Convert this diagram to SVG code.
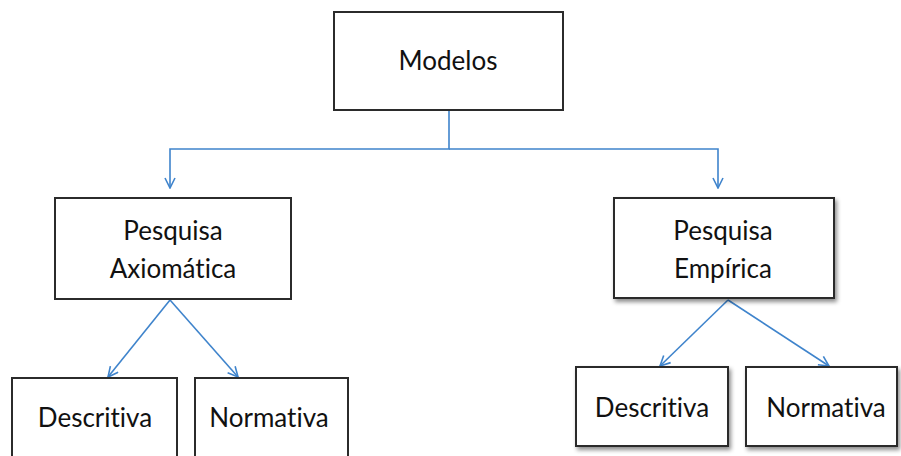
<svg xmlns="http://www.w3.org/2000/svg" width="901" height="456" viewBox="0 0 901 456">
<defs>
<style>
.box{fill:#fff;stroke:#2b2b2b;stroke-width:2}
.t{font-family:Lato,"Open Sans","Liberation Sans",sans-serif;font-size:26px;fill:#111;text-anchor:middle;font-variant-ligatures:none;font-feature-settings:"liga" 0,"dlig" 0}
.c{fill:none;stroke:#3f84cc;stroke-width:1.6}
</style>
<marker id="ah" viewBox="0 0 12 12" refX="11" refY="6" markerWidth="12" markerHeight="12" markerUnits="userSpaceOnUse" orient="auto">
<path d="M1,1 L11,6 L1,11" fill="none" stroke="#3f84cc" stroke-width="1.6"/>
</marker>
<filter id="sh" x="-10%" y="-10%" width="130%" height="140%">
<feDropShadow dx="2" dy="3" stdDeviation="2" flood-color="#000" flood-opacity="0.45"/>
</filter>
</defs>
<rect width="901" height="456" fill="#fff"/>
<g id="connectors">
<path class="c" d="M449,110 V149 H170 V188" marker-end="url(#ah)"/>
<path class="c" d="M449,149 H718 V188" marker-end="url(#ah)"/>
<line class="c" x1="170" y1="300" x2="108" y2="377" marker-end="url(#ah)"/>
<line class="c" x1="170" y1="300" x2="238" y2="377" marker-end="url(#ah)"/>
<line class="c" x1="728" y1="300" x2="660" y2="366" marker-end="url(#ah)"/>
<line class="c" x1="728" y1="300" x2="829" y2="366" marker-end="url(#ah)"/>
</g>
<g id="modelos">
<rect class="box" x="334" y="12" width="229" height="98"/>
<text class="t" x="448" y="70">Modelos</text>
</g>
<g id="axiomatica">
<rect class="box" x="55" y="198" width="236" height="101"/>
<text class="t" x="173" y="240">Pesquisa</text>
<text class="t" x="173" y="278">Axiomática</text>
</g>
<g id="empirica">
<rect class="box" x="614" y="198" width="220" height="100" filter="url(#sh)"/>
<text class="t" x="723" y="240">Pesquisa</text>
<text class="t" x="723" y="278">Empírica</text>
</g>
<g id="descritiva-a">
<rect class="box" x="12" y="378" width="165" height="90"/>
<text class="t" x="95" y="427">Descritiva</text>
</g>
<g id="normativa-a">
<rect class="box" x="195" y="378" width="153" height="90"/>
<text class="t" x="269" y="427">Normativa</text>
</g>
<g id="descritiva-e">
<rect class="box" x="576" y="367" width="152" height="79" filter="url(#sh)"/>
<text class="t" x="652" y="417">Descritiva</text>
</g>
<g id="normativa-e">
<rect class="box" x="746" y="367" width="151" height="79" filter="url(#sh)"/>
<text class="t" x="826" y="417">Normativa</text>
</g>
</svg>
